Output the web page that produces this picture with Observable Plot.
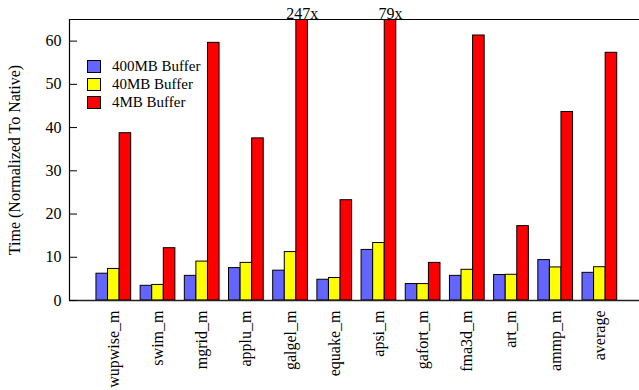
<!DOCTYPE html>
<html>
<head>
<meta charset="utf-8">
<script src="https://cdn.jsdelivr.net/npm/d3@7"></script>
<script src="https://cdn.jsdelivr.net/npm/@observablehq/plot@0.6"></script>
<style>
  html, body { margin: 0; padding: 0; background: #fff; }
  #wrap { position: relative; width: 639px; height: 390px; font-family: "Liberation Serif", "Times New Roman", serif; }
  #wrap svg text { font-family: "Liberation Serif", "Times New Roman", serif; }
  #legend { position: absolute; left: 87px; top: 57px; font-size: 15px; line-height: 18px; color: #000; }
  #legend .row { display: flex; align-items: center; height: 18px; }
  #legend .sw { width: 12px; height: 11px; border: 1px solid #000; margin-right: 11px; }
</style>
</head>
<body>
<div id="wrap"><div id="legend"></div></div>
<script>
// SPEC OMP benchmarks, run time normalized to native, per code-cache buffer size
const benchmarks = ["wupwise_m", "swim_m", "mgrid_m", "applu_m", "galgel_m", "equake_m",
                    "apsi_m", "gafort_m", "fma3d_m", "art_m", "ammp_m", "average"];
const buffer400MB = [6.2, 3.4, 5.7, 7.5, 6.9, 4.8, 11.7, 3.8, 5.7, 5.9, 9.35, 6.4];
const buffer40MB  = [7.3, 3.6, 9.0, 8.7, 11.2, 5.2, 13.3, 3.8, 7.1, 5.95, 7.65, 7.7];
const buffer4MB   = [38.7, 12.1, 59.6, 37.5, 247, 23.2, 79, 8.7, 61.3, 17.2, 43.6, 57.3];
const seriesNames = ["400MB Buffer", "40MB Buffer", "4MB Buffer"];
const seriesColors = ["#6464ff", "#ffff00", "#ff0000"];
const yTicks = [0, 10, 20, 30, 40, 50, 60];
const yMax = 65;

const seriesValues = [buffer400MB, buffer40MB, buffer4MB];

// layout of a cluster, in units of one benchmark slot
const clusterStart = -0.39;
const barWidth = 0.262;

const rows = [];
benchmarks.forEach((b, i) => {
  seriesValues.forEach((vals, k) => {
    rows.push({bench: b, i, k, series: seriesNames[k], value: vals[i],
               x1: i + clusterStart + k * barWidth,
               x2: i + clusterStart + (k + 1) * barWidth});
  });
});

const serif = '"Liberation Serif", "Times New Roman", serif';

const chart = Plot.plot({
  width: 639,
  height: 390,
  marginLeft: 69,
  marginRight: 0,
  marginTop: 19,
  marginBottom: 90,
  style: {fontFamily: serif, fontSize: "16px", color: "#000", background: "#fff"},
  x: {type: "linear", domain: [-1, 11.9]},
  y: {domain: [0, yMax]},
  color: {domain: seriesNames, range: seriesColors},
  marks: [
    Plot.rectY(rows, {x1: "x1", x2: "x2", y1: 0, y2: "value", fill: "series",
                      stroke: "#000", strokeWidth: 1, clip: true}),
    Plot.text(rows.filter(d => d.value > yMax), {
      x: d => (d.x1 + d.x2) / 2, text: d => `${d.value}x`,
      frameAnchor: "top", lineAnchor: "bottom", dy: -1, fontSize: 16, fontFamily: serif
    }),
    Plot.ruleY([0], {stroke: "#222", strokeWidth: 1.5}),
    Plot.ruleY([yMax], {stroke: "#000", strokeWidth: 1.2}),
    Plot.ruleX([-1], {stroke: "#000", strokeWidth: 1.2}),
    Plot.axisY({ticks: yTicks, tickSize: -8, tickPadding: 16, stroke: "#000",
                label: "Time (Normalized To Native)", labelAnchor: "center",
                labelArrow: false, labelOffset: 61, fontSize: 16, fontFamily: serif}),
    Plot.axisX({ticks: d3.range(benchmarks.length), tickFormat: i => benchmarks[i],
                tickSize: 0, tickPadding: 10, tickRotate: -90, label: null,
                fontSize: 16, fontFamily: serif})
  ]
});

document.getElementById("wrap").prepend(chart);

const legend = d3.select("#legend");
seriesNames.forEach((name, k) => {
  const row = legend.append("div").attr("class", "row");
  row.append("div").attr("class", "sw").style("background", seriesColors[k]);
  row.append("span").text(name);
});
</script>
</body>
</html>
